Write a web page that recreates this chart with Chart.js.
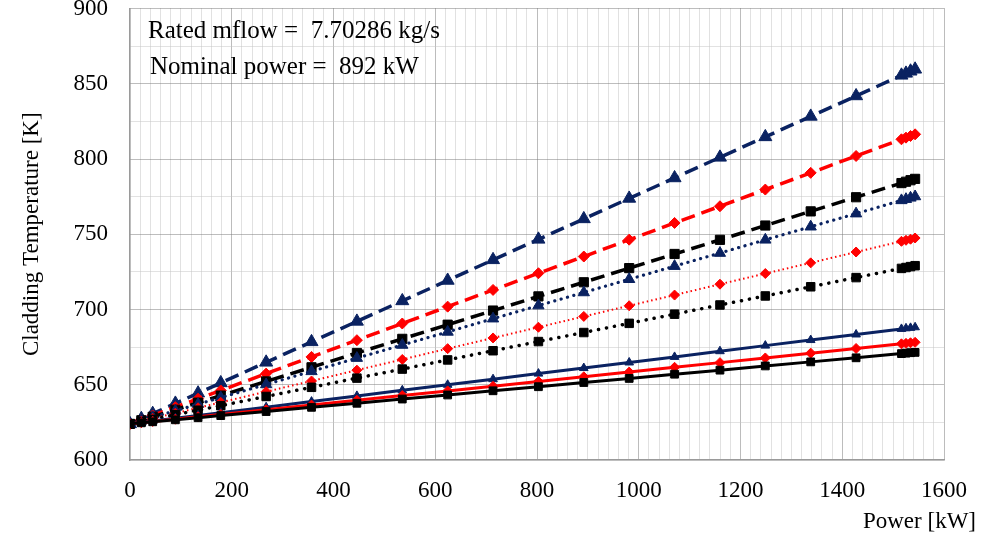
<!DOCTYPE html>
<html>
<head>
<meta charset="utf-8">
<script src="https://cdn.jsdelivr.net/npm/chart.js@4/dist/chart.umd.min.js"></script>
<style>
  html, body { margin: 0; padding: 0; background: #ffffff; }
  #wrap { width: 985px; height: 540px; position: relative; }
</style>
</head>
<body>
<div id="wrap"><canvas id="chart" width="985" height="540"></canvas></div>
<script>
// Reactor power levels [kW] (fractions of the 892 kW nominal power)
const power = [0, 22.3, 44.6, 89.2, 133.8, 178.4, 267.6, 356.8, 446, 535.2, 624.4, 713.6,
  802.8, 892, 981.2, 1070.4, 1159.6, 1248.8, 1338, 1427.2, 1516.4, 1525.3, 1534.2, 1543.2];

// Cladding temperature [K] for each case
const navyDashed = [624, 627.4, 630.8, 637.6, 644.4, 651.2, 664.9, 678.5, 692.1, 705.7, 719.3, 733.0,
  746.6, 760.2, 773.8, 787.4, 801.1, 814.7, 828.3, 841.9, 855.6, 856.9, 858.3, 859.6];
const redDashed = [624, 626.8, 629.6, 635.1, 640.7, 646.2, 657.4, 668.5, 679.6, 690.7, 701.9, 713.0,
  724.1, 735.2, 746.4, 757.5, 768.6, 779.7, 790.8, 802.0, 813.1, 814.2, 815.3, 816.4];
const blackDashed = [624, 626.4, 628.7, 633.4, 638.1, 642.8, 652.2, 661.6, 671.1, 680.5, 689.9, 699.3,
  708.7, 718.1, 727.5, 736.9, 746.3, 755.8, 765.2, 774.6, 784.0, 784.9, 785.9, 786.8];
const navyDotted = [624, 626.2, 628.4, 632.7, 637.1, 641.5, 650.2, 658.9, 667.7, 676.4, 685.1, 693.9,
  702.6, 711.3, 720.1, 728.8, 737.5, 746.3, 755.0, 763.7, 772.5, 773.3, 774.2, 775.1];
const redDotted = [624, 625.8, 627.6, 631.1, 634.7, 638.3, 645.4, 652.5, 659.7, 666.8, 674.0, 681.1,
  688.2, 695.4, 702.5, 709.6, 716.8, 723.9, 731.0, 738.2, 745.3, 746.0, 746.7, 747.5];
const blackDotted = [624, 625.5, 627.0, 630.1, 633.1, 636.1, 642.2, 648.3, 654.4, 660.4, 666.5, 672.6,
  678.7, 684.7, 690.8, 696.9, 703.0, 709.0, 715.1, 721.2, 727.3, 727.9, 728.5, 729.1];
const navySolid = [624, 624.9, 625.9, 627.7, 629.6, 631.4, 635.1, 638.8, 642.6, 646.3, 650.0, 653.7,
  657.4, 661.1, 664.8, 668.5, 672.3, 676.0, 679.7, 683.4, 687.1, 687.5, 687.8, 688.2];
const redSolid = [624, 624.8, 625.6, 627.1, 628.7, 630.3, 633.4, 636.5, 639.7, 642.8, 645.9, 649.0,
  652.2, 655.3, 658.4, 661.6, 664.7, 667.8, 671.0, 674.1, 677.2, 677.5, 677.9, 678.2];
const blackSolid = [624, 624.7, 625.4, 626.7, 628.1, 629.5, 632.2, 635.0, 637.7, 640.5, 643.2, 646.0,
  648.7, 651.5, 654.2, 657.0, 659.7, 662.5, 665.2, 667.9, 670.7, 671.0, 671.3, 671.5];

// Axis ranges and labelled ticks
const xRange = [0, 1600];
const yRange = [600, 900];
const xLabelStep = 200;
const yLabelStep = 50;

const notes = ['Rated mflow =  7.70286 kg/s', 'Nominal power =  892 kW'];
const xTitle = 'Power [kW]';
const yTitle = 'Cladding Temperature [K]';

const NAVY = '#0a2261';
const RED = '#ff0000';
const BLACK = '#000000';
const SERIF = '"Liberation Serif", "Times New Roman", serif';

function pts(values) {
  return values.map((v, i) => ({ x: power[i], y: v }));
}

function series(values, color, shape, radius, width, dash, cap) {
  return {
    data: pts(values),
    showLine: true,
    borderColor: color,
    backgroundColor: color,
    borderWidth: width,
    borderDash: dash,
    borderCapStyle: cap,
    pointStyle: shape,
    pointRadius: radius,
    pointBorderWidth: 1,
    pointBorderColor: color,
    pointBackgroundColor: color,
    tension: 0
  };
}

const DASH = [14, 7];
const datasets = [
  series(blackSolid, BLACK, 'rect', 5.5, 3, [], 'butt'),
  series(redSolid, RED, 'rectRot', 5, 3, [], 'butt'),
  series(navySolid, NAVY, 'triangle', 5, 3, [], 'butt'),
  series(blackDotted, BLACK, 'rect', 6, 3.5, [0.1, 8], 'round'),
  series(redDotted, RED, 'rectRot', 5, 2, [1.5, 3], 'butt'),
  series(navyDotted, NAVY, 'triangle', 6.5, 3.2, [0.1, 6.5], 'round'),
  series(blackDashed, BLACK, 'rect', 6.5, 3.5, DASH, 'butt'),
  series(redDashed, RED, 'rectRot', 5.5, 3.5, DASH, 'butt'),
  series(navyDashed, NAVY, 'triangle', 7.5, 3.5, DASH, 'butt')
];

// Text drawn in the plot and the horizontal axis title
const textPlugin = {
  id: 'chartText',
  afterDraw(chart) {
    const ctx = chart.ctx;
    ctx.save();
    ctx.fillStyle = '#000000';
    ctx.textBaseline = 'middle';
    ctx.textAlign = 'left';
    ctx.font = '25px ' + SERIF;
    ctx.fillText(notes[0], 148, 31);
    ctx.fillText(notes[1], 150, 67);
    ctx.font = '23px ' + SERIF;
    ctx.textAlign = 'right';
    ctx.fillText(xTitle, 976, 522);
    ctx.restore();
  }
};

new Chart(document.getElementById('chart'), {
  type: 'scatter',
  data: { datasets },
  options: {
    responsive: false,
    animation: false,
    layout: { padding: { left: 0, top: 8, right: 41, bottom: 0 } },
    plugins: { legend: { display: false }, tooltip: { enabled: false } },
    scales: {
      x: {
        type: 'linear',
        min: xRange[0],
        max: xRange[1],
        afterFit(scale) { scale.height = 80; scale.paddingLeft = 0; scale.paddingRight = 0; },
        ticks: {
          stepSize: 20,
          autoSkip: false,
          maxRotation: 0,
          padding: 17,
          color: '#000000',
          font: { family: SERIF, size: 23 },
          callback: (v) => (Math.round(v) % xLabelStep === 0 ? String(Math.round(v)) : '')
        },
        grid: {
          drawTicks: false,
          lineWidth: 1,
          color: (c) => (c.tick && Math.round(c.tick.value) % xLabelStep === 0 && c.tick.value > 0
            ? '#7a7a7a' : '#c4c4c4')
        },
        border: { display: true, color: '#9a9a9a', width: 1.5, dash: [1, 1] }
      },
      y: {
        type: 'linear',
        min: yRange[0],
        max: yRange[1],
        afterFit(scale) { scale.width = 130; scale.paddingTop = 0; scale.paddingBottom = 0; },
        ticks: {
          stepSize: 25,
          autoSkip: false,
          padding: 22,
          color: '#000000',
          font: { family: SERIF, size: 23 },
          callback: (v) => (Math.round(v) % yLabelStep === 0 ? String(Math.round(v)) : '')
        },
        grid: {
          drawTicks: false,
          lineWidth: 1,
          color: (c) => (c.tick && Math.round(c.tick.value) % yLabelStep === 0 && c.tick.value > yRange[0]
            ? '#7a7a7a' : '#c4c4c4')
        },
        border: { display: true, color: '#9a9a9a', width: 1.5, dash: [1, 1] },
        title: {
          display: true,
          text: yTitle,
          color: '#000000',
          font: { family: SERIF, size: 23 },
          padding: { top: 18, bottom: 0 }
        }
      }
    }
  },
  plugins: [textPlugin]
});
</script>
</body>
</html>
